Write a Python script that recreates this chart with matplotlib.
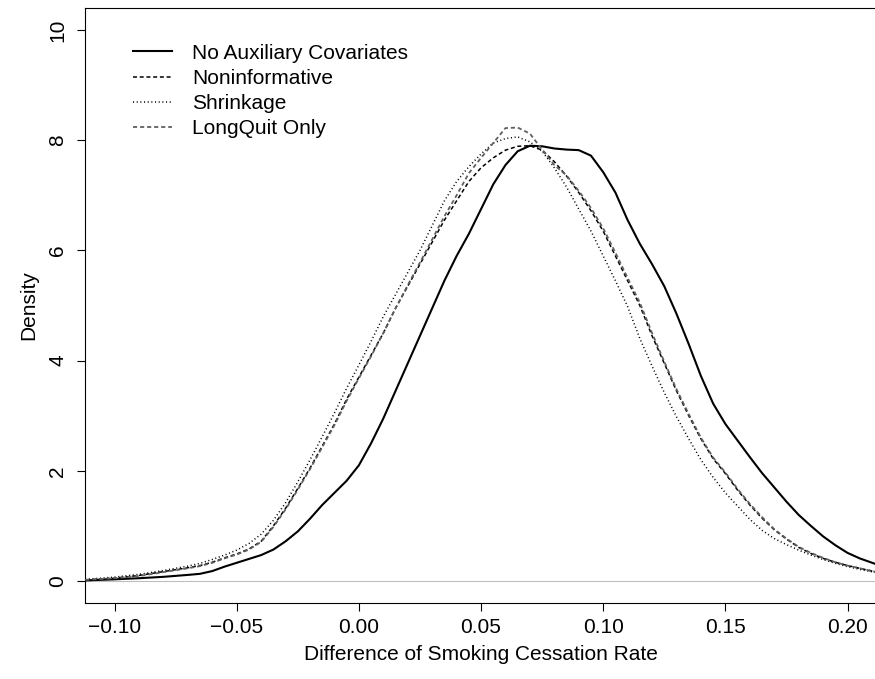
import numpy as np
import matplotlib
matplotlib.use("Agg")
import matplotlib.pyplot as plt

# --- valores (densidad vs diferencia) ---
dif = [-0.112, -0.10, -0.09, -0.08, -0.07, -0.065, -0.06, -0.055, -0.05, -0.045,
       -0.04, -0.035, -0.03, -0.025, -0.02, -0.015, -0.01, -0.005, 0.0, 0.005,
       0.01, 0.015, 0.02, 0.025, 0.03, 0.035, 0.04, 0.045, 0.05, 0.055,
       0.06, 0.065, 0.07, 0.075, 0.08, 0.085, 0.09, 0.095, 0.10, 0.105,
       0.11, 0.115, 0.12, 0.125, 0.13, 0.135, 0.14, 0.145, 0.15, 0.155,
       0.16, 0.165, 0.17, 0.175, 0.18, 0.185, 0.19, 0.195, 0.20, 0.205,
       0.212]

dens_noaux = [0.01, 0.03, 0.05, 0.075, 0.11, 0.13, 0.18, 0.26, 0.33, 0.4, 0.47,
              0.57, 0.72, 0.9, 1.13, 1.38, 1.6, 1.82, 2.1, 2.5, 2.95,
              3.45, 3.95, 4.45, 4.95, 5.45, 5.9, 6.3, 6.75, 7.2, 7.55,
              7.8, 7.9, 7.89, 7.85, 7.83, 7.82, 7.72, 7.42, 7.05, 6.55,
              6.12, 5.75, 5.35, 4.85, 4.3, 3.72, 3.22, 2.85, 2.55, 2.25,
              1.96, 1.7, 1.44, 1.2, 1.0, 0.81, 0.65, 0.51, 0.41, 0.3]

dens_noninf = [0.02, 0.05, 0.1, 0.17, 0.24, 0.28, 0.34, 0.42, 0.49, 0.58, 0.72,
               1.0, 1.32, 1.68, 2.05, 2.45, 2.85, 3.3, 3.7, 4.1, 4.5,
               4.95, 5.35, 5.75, 6.15, 6.55, 6.9, 7.25, 7.5, 7.68, 7.82,
               7.89, 7.9, 7.82, 7.61, 7.35, 7.05, 6.72, 6.35, 5.9, 5.45,
               5.0, 4.45, 3.95, 3.45, 3.0, 2.58, 2.22, 1.95, 1.65, 1.38,
               1.14, 0.93, 0.76, 0.61, 0.5, 0.41, 0.34, 0.28, 0.23, 0.16]

dens_shrink = [0.03, 0.07, 0.12, 0.19, 0.27, 0.32, 0.39, 0.47, 0.56, 0.68, 0.85,
               1.1, 1.42, 1.8, 2.2, 2.62, 3.05, 3.5, 3.92, 4.35, 4.8,
               5.2, 5.6, 6.0, 6.45, 6.9, 7.25, 7.52, 7.75, 7.95, 8.03,
               8.06, 7.97, 7.8, 7.5, 7.15, 6.75, 6.35, 5.9, 5.45, 4.98,
               4.4, 3.9, 3.42, 2.98, 2.58, 2.2, 1.88, 1.6, 1.36, 1.12,
               0.92, 0.77, 0.66, 0.56, 0.47, 0.39, 0.32, 0.26, 0.21, 0.15]

dens_longquit = [0.02, 0.05, 0.09, 0.16, 0.23, 0.27, 0.33, 0.41, 0.48, 0.57, 0.71,
                 0.98, 1.3, 1.66, 2.03, 2.43, 2.83, 3.27, 3.68, 4.08, 4.5,
                 4.95, 5.37, 5.78, 6.2, 6.62, 7.0, 7.4, 7.68, 7.95, 8.22,
                 8.23, 8.12, 7.83, 7.55, 7.36, 7.08, 6.77, 6.4, 5.96, 5.5,
                 5.05, 4.5, 3.98, 3.48, 3.03, 2.6, 2.24, 1.97, 1.67, 1.4,
                 1.16, 0.94, 0.77, 0.62, 0.51, 0.42, 0.34, 0.28, 0.23, 0.16]

etiquetas = ["No Auxiliary Covariates", "Noninformative", "Shrinkage", "LongQuit Only"]
xticks = [-0.10, -0.05, 0.00, 0.05, 0.10, 0.15, 0.20]
yticks = [0, 2, 4, 6, 8, 10]

plt.rcParams['font.family'] = ['Liberation Sans', 'DejaVu Sans']
fs = 15

W, H = 875, 679
fig = plt.figure(figsize=(W / 100, H / 100), dpi=100)
# caja en pixeles: izquierda 85, arriba 8, abajo 603; el borde derecho queda fuera
ancho = 792
ax = fig.add_axes([85 / W, (H - 603) / H, ancho / W, 595 / H])

px_unidad = 2443.0
x0 = (85 - 358.9) / px_unidad
ax.set_xlim(x0, x0 + ancho / px_unidad)
ax.set_ylim(-0.4, 10.4)

ax.axhline(0, color="#bebebe", lw=0.8, zorder=1)

ax.plot(dif, dens_noaux, color="black", lw=1.5, solid_joinstyle="round",
        label=etiquetas[0], zorder=3)
ax.plot(dif, dens_noninf, color="black", lw=1.1, dashes=(2.6, 1.8),
        label=etiquetas[1], zorder=3)
ax.plot(dif, dens_shrink, color="black", lw=1.1, dashes=(0.7, 1.7),
        label=etiquetas[2], zorder=3)
ax.plot(dif, dens_longquit, color="#606060", lw=1.3, dashes=(2.3, 1.6),
        label=etiquetas[3], zorder=3)

ax.set_xticks(xticks)
ax.set_xticklabels([f"{t:.2f}".replace("-", "\u2212") for t in xticks])
ax.set_yticks(yticks)
ax.set_yticklabels([str(t) for t in yticks], rotation=90, va="center")

ax.tick_params(axis="both", direction="out", length=5.8, width=0.8,
               labelsize=fs, color="black")
ax.tick_params(axis="x", pad=5)
ax.tick_params(axis="y", pad=7)
for s in ax.spines.values():
    s.set_linewidth(0.8)

ax.set_xlabel("Difference of Smoking Cessation Rate", fontsize=fs, labelpad=6)
ax.set_ylabel("Density", fontsize=fs, labelpad=7)

ax.legend(loc="upper left", bbox_to_anchor=(48 / ancho, 0.94), frameon=False,
          fontsize=fs, handlelength=1.88, handletextpad=0.96, labelspacing=0.3,
          borderaxespad=0, borderpad=0)

fig.savefig("out.png", dpi=100)
